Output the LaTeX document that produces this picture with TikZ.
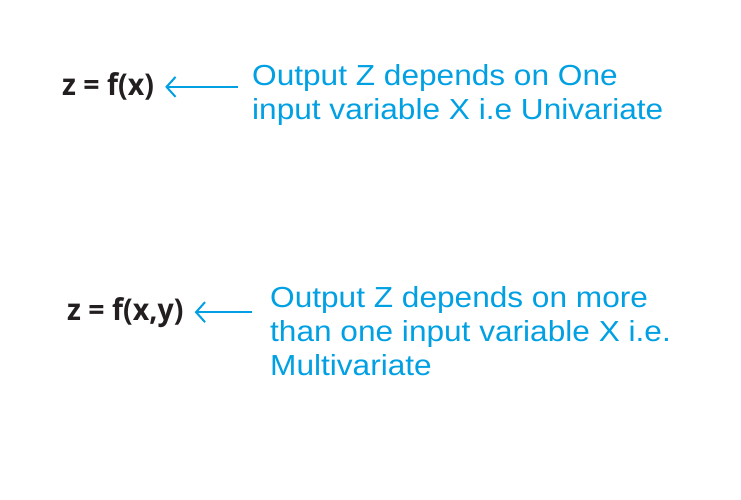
\documentclass[tikz,border=0pt]{standalone}
\usepackage{fontspec}
\setmainfont{Liberation Sans}[FakeStretch=1.09]
\newfontfamily\formfont{Open Sans}[FakeStretch=0.95]
\usetikzlibrary{arrows.meta,positioning}
\definecolor{skyblue}{RGB}{0,160,227}
\definecolor{inkdark}{RGB}{35,31,32}

\begin{document}
\begin{tikzpicture}[x=1pt,y=-1pt,>={Straight Barb[length=9pt,width=20pt]}]
  \tikzstyle{formula}=[inner sep=0pt,anchor=base west,text=inkdark,font=\formfont\bfseries\fontsize{30}{34}\selectfont]
  \tikzstyle{note}=[inner sep=0pt,anchor=base west,align=left,text=skyblue,font=\fontsize{29}{34}\selectfont]
  \tikzstyle{pointer}=[->,skyblue,line width=2pt]
  \useasboundingbox (0,0) rectangle (741,500);
  \node[formula] (f1) at (62,96) {z = f(x)};
  \node[note] (d1) at (252,119.5) {Output Z depends on One\\input variable X i.e Univariate};
  \node[formula] (f2) at (67,320) {z = f(x,y)};
  \node[note] (d2) at (270,375) {Output Z depends on more\\than one input variable X i.e.\\Multivariate};
  \draw[pointer,shorten <=14pt,shorten >=11pt] (f1.east -| d1.west) -- (f1.east);
  \draw[pointer,shorten <=18pt,shorten >=11pt] (f2.east -| d2.west) -- (f2.east);
\end{tikzpicture}
\end{document}
